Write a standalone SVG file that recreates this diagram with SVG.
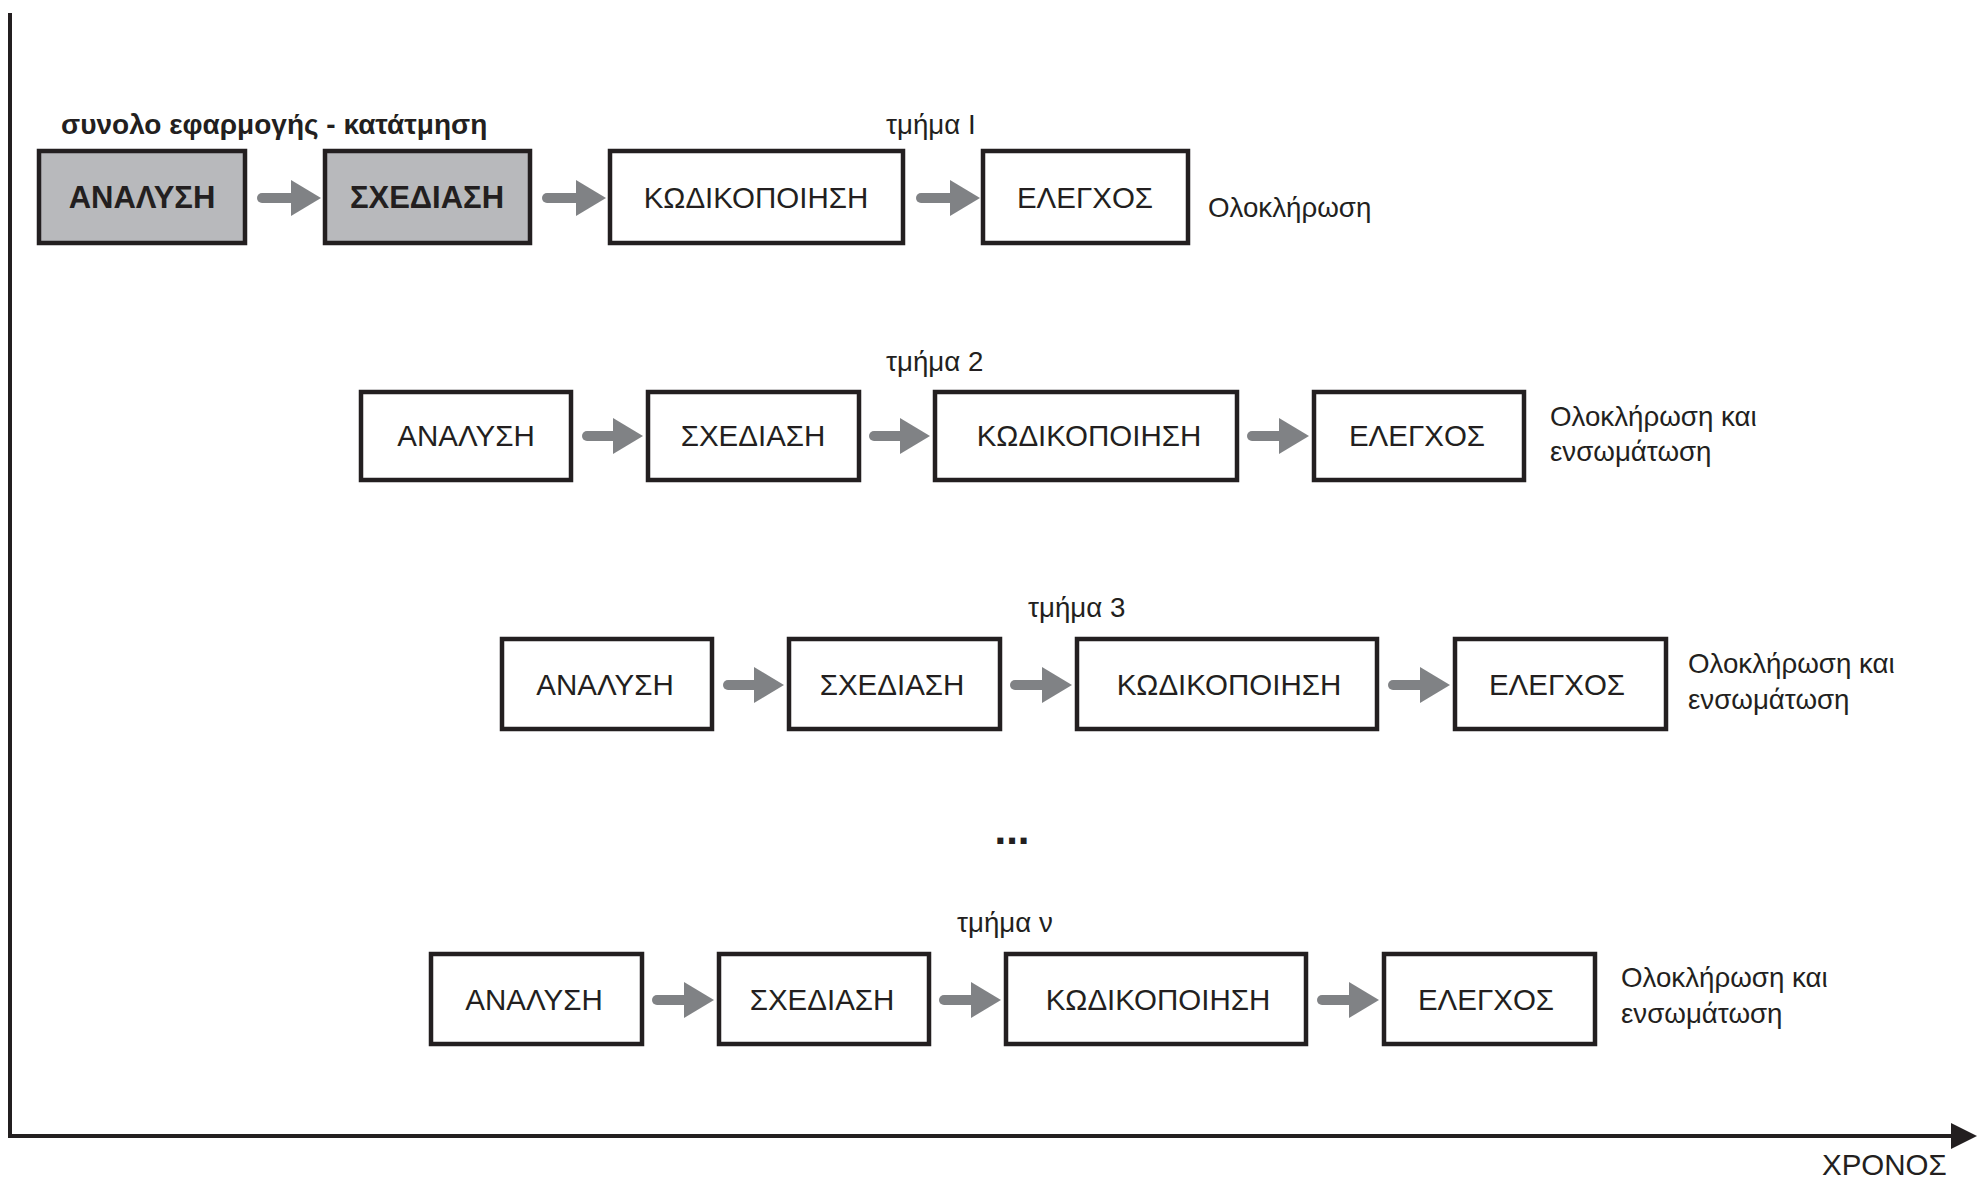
<svg xmlns="http://www.w3.org/2000/svg" width="1977" height="1182" viewBox="0 0 1977 1182">
<style>
.box{fill:#ffffff;stroke:#231f20;stroke-width:4.5}
.boxg{fill:#b8b9bc;stroke:#231f20;stroke-width:4.5}
.t{font-family:"Liberation Sans",Arial,sans-serif;font-size:29.5px;fill:#231f20;text-anchor:middle}
.tb{font-family:"Liberation Sans",Arial,sans-serif;font-size:31px;font-weight:bold;fill:#231f20;text-anchor:middle}
.lbl{font-family:"Liberation Sans",Arial,sans-serif;font-size:27.7px;fill:#231f20}
.lblb{font-family:"Liberation Sans",Arial,sans-serif;font-size:28px;font-weight:bold;fill:#231f20}
.dots{font-family:"Liberation Sans",Arial,sans-serif;font-size:42px;font-weight:bold;fill:#231f20;text-anchor:middle}
.arr{stroke:#808285;stroke-width:10;stroke-linecap:round;fill:none;marker-end:url(#ah)}
.axis{stroke:#231f20;stroke-width:4;fill:none}
</style>
<defs>
<marker id="ah" markerUnits="userSpaceOnUse" markerWidth="30" markerHeight="36" refX="1" refY="18" orient="auto">
<path d="M0,0 L30,18 L0,36 z" fill="#808285"/>
</marker>
<marker id="axh" markerUnits="userSpaceOnUse" markerWidth="26" markerHeight="26" refX="1" refY="13" orient="auto">
<path d="M0,0 L26,13 L0,26 z" fill="#231f20"/>
</marker>
</defs>

<g id="axes">
<line class="axis" x1="10" y1="13" x2="10" y2="1136"/>
<line class="axis" x1="8" y1="1136" x2="1952" y2="1136" marker-end="url(#axh)"/>
<text class="lbl" x="1822" y="1175" style="font-size:29.5px">ΧΡΟΝΟΣ</text>
</g>

<g id="labels">
<text class="lblb" x="61" y="134">συνολο εφαρμογής - κατάτμηση</text>
<text class="lbl" x="886" y="134">τμήμα Ι</text>
<text class="lbl" x="1208" y="217">Ολοκλήρωση</text>
<text class="lbl" x="886" y="371">τμήμα 2</text>
<text class="lbl" x="1550" y="426">Ολοκλήρωση και</text>
<text class="lbl" x="1550" y="461">ενσωμάτωση</text>
<text class="lbl" x="1028" y="617">τμήμα 3</text>
<text class="lbl" x="1688" y="673">Ολοκλήρωση και</text>
<text class="lbl" x="1688" y="709">ενσωμάτωση</text>
<text class="dots" x="1012" y="844">...</text>
<text class="lbl" x="957" y="932">τμήμα ν</text>
<text class="lbl" x="1621" y="987">Ολοκλήρωση και</text>
<text class="lbl" x="1621" y="1023">ενσωμάτωση</text>
</g>

<g id="row1">
<g id="r1-analysh"><rect class="boxg" x="39" y="151" width="206" height="92"/><text class="tb" x="142" y="208">ΑΝΑΛΥΣΗ</text></g>
<g id="r1-sxediash"><rect class="boxg" x="325" y="151" width="205" height="92"/><text class="tb" x="427" y="208">ΣΧΕΔΙΑΣΗ</text></g>
<g id="r1-kodikopoihsh"><rect class="box" x="610" y="151" width="293" height="92"/><text class="t" x="756" y="208">ΚΩΔΙΚΟΠΟΙΗΣΗ</text></g>
<g id="r1-elegxos"><rect class="box" x="983" y="151" width="205" height="92"/><text class="t" x="1085" y="208">ΕΛΕΓΧΟΣ</text></g>
</g>

<g id="row2">
<g id="r2-analysh"><rect class="box" x="361" y="392" width="210" height="88"/><text class="t" x="466" y="446">ΑΝΑΛΥΣΗ</text></g>
<g id="r2-sxediash"><rect class="box" x="648" y="392" width="211" height="88"/><text class="t" x="753" y="446">ΣΧΕΔΙΑΣΗ</text></g>
<g id="r2-kodikopoihsh"><rect class="box" x="935" y="392" width="302" height="88"/><text class="t" x="1089" y="446">ΚΩΔΙΚΟΠΟΙΗΣΗ</text></g>
<g id="r2-elegxos"><rect class="box" x="1314" y="392" width="210" height="88"/><text class="t" x="1417" y="446">ΕΛΕΓΧΟΣ</text></g>
</g>

<g id="row3">
<g id="r3-analysh"><rect class="box" x="502" y="639" width="210" height="90"/><text class="t" x="605" y="695">ΑΝΑΛΥΣΗ</text></g>
<g id="r3-sxediash"><rect class="box" x="789" y="639" width="211" height="90"/><text class="t" x="892" y="695">ΣΧΕΔΙΑΣΗ</text></g>
<g id="r3-kodikopoihsh"><rect class="box" x="1077" y="639" width="300" height="90"/><text class="t" x="1229" y="695">ΚΩΔΙΚΟΠΟΙΗΣΗ</text></g>
<g id="r3-elegxos"><rect class="box" x="1455" y="639" width="211" height="90"/><text class="t" x="1557" y="695">ΕΛΕΓΧΟΣ</text></g>
</g>

<g id="rown">
<g id="rn-analysh"><rect class="box" x="431" y="954" width="211" height="90"/><text class="t" x="534" y="1010">ΑΝΑΛΥΣΗ</text></g>
<g id="rn-sxediash"><rect class="box" x="719" y="954" width="210" height="90"/><text class="t" x="822" y="1010">ΣΧΕΔΙΑΣΗ</text></g>
<g id="rn-kodikopoihsh"><rect class="box" x="1006" y="954" width="300" height="90"/><text class="t" x="1158" y="1010">ΚΩΔΙΚΟΠΟΙΗΣΗ</text></g>
<g id="rn-elegxos"><rect class="box" x="1384" y="954" width="211" height="90"/><text class="t" x="1486" y="1010">ΕΛΕΓΧΟΣ</text></g>
</g>

<g id="connectors">
<line class="arr" x1="262" y1="198" x2="292" y2="198"/>
<line class="arr" x1="547" y1="198" x2="577" y2="198"/>
<line class="arr" x1="921" y1="198" x2="951" y2="198"/>

<line class="arr" x1="587" y1="436" x2="614" y2="436"/>
<line class="arr" x1="874" y1="436" x2="901" y2="436"/>
<line class="arr" x1="1252" y1="436" x2="1280" y2="436"/>

<line class="arr" x1="728" y1="685" x2="755" y2="685"/>
<line class="arr" x1="1015" y1="685" x2="1043" y2="685"/>
<line class="arr" x1="1393" y1="685" x2="1421" y2="685"/>

<line class="arr" x1="657" y1="1000" x2="685" y2="1000"/>
<line class="arr" x1="944" y1="1000" x2="972" y2="1000"/>
<line class="arr" x1="1322" y1="1000" x2="1350" y2="1000"/>
</g>
</svg>
